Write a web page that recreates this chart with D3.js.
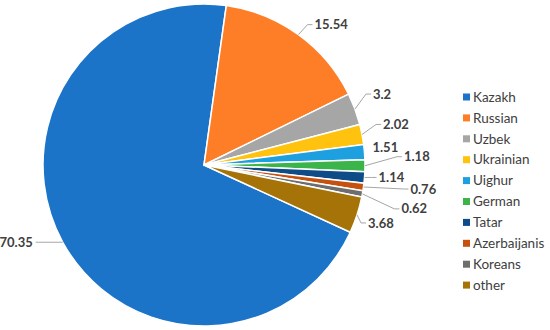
<!doctype html>
<html>
<head>
<script src="https://d3js.org/d3.v7.min.js"></script>
<style>
    body { margin: 0; background: #fff; }
    text { font-family: Lato, "Open Sans", sans-serif; }
</style>
</head>
<body>
<script>
    // data
    var groups = ["Kazakh", "Russian", "Uzbek", "Ukrainian", "Uighur", "German", "Tatar", "Azerbaijanis", "Koreans", "other"];
    var shares = [70.35, 15.54, 3.2, 2.02, 1.51, 1.18, 1.14, 0.76, 0.62, 3.68];
    var colors = ["#1C74C9", "#FD7E27", "#A6A6A6", "#FFC20E", "#1E9FE0", "#3BB44A", "#0E4C88", "#C5510F", "#6E6E6E", "#A67308"];

    // label placement, offset from the slice edge (layout only)
    var labelNudge = [[-30, 0], [16, -10], [18, -15], [21, -10], [8, -5], [39, -9], [14, 0], [47, 2], [39, 15], [11, 8]];

    var width = 550, height = 330;
    var cx = 204, cy = 165, r = 161;
    var startDeg = 114.7;

    var svg = d3.select("body").append("svg")
        .attr("width", width)
        .attr("height", height);

    var rows = groups.map(function (g, i) { return {name: g, value: shares[i], color: colors[i], i: i}; });

    var pie = d3.pie()
        .sort(null)
        .value(function (d) { return d.value; })
        .startAngle(startDeg * Math.PI / 180)
        .endAngle((startDeg + 360) * Math.PI / 180);

    var arc = d3.arc().innerRadius(0).outerRadius(r);
    var arcs = pie(rows);

    var g = svg.append("g").attr("transform", "translate(" + cx + "," + cy + ")");

    g.selectAll("path.slice")
        .data(arcs)
        .enter()
        .append("path")
        .attr("class", "slice")
        .attr("d", arc)
        .attr("fill", function (d) { return d.data.color; })
        .attr("stroke", "white")
        .attr("stroke-width", 1.5);

    // labels + leader lines
    arcs.forEach(function (d) {
        var a = (d.startAngle + d.endAngle) / 2;
        var ex = r * Math.sin(a), ey = -r * Math.cos(a);
        var nd = labelNudge[d.data.i];
        var tx = ex + nd[0], ty = ey + nd[1];
        var left = nd[0] < 0;
        var dist = Math.sqrt(nd[0] * nd[0] + nd[1] * nd[1]);
        if (dist > 12) {
            var ix = left ? tx + 6 : tx - 7;
            var jx = left ? tx + 3 : tx - 2;
            g.append("polyline")
                .attr("points", [[ex, ey], [ix, ty], [jx, ty]].map(function (p) { return p.join(","); }).join(" "))
                .attr("fill", "none")
                .attr("stroke", "#A6A6A6")
                .attr("stroke-width", 1);
        }
        g.append("text")
            .attr("x", tx)
            .attr("y", ty)
            .attr("dy", "0.35em")
            .attr("text-anchor", left ? "end" : "start")
            .attr("font-size", "13px")
            .attr("font-weight", "bold")
            .attr("fill", "#404040")
            .text(d.data.value);
    });

    // legend
    var legend = svg.append("g").attr("transform", "translate(463, 97)");
    var item = legend.selectAll("g.item")
        .data(rows)
        .enter()
        .append("g")
        .attr("class", "item")
        .attr("transform", function (d, i) { return "translate(0," + (i * 20.9) + ")"; });

    item.append("rect")
        .attr("x", 0)
        .attr("y", -3.5)
        .attr("width", 7)
        .attr("height", 7)
        .attr("fill", function (d) { return d.color; });

    item.append("text")
        .attr("x", 10)
        .attr("y", 0)
        .attr("dy", "0.35em")
        .attr("font-size", "13.5px")
        .attr("fill", "#404040")
        .text(function (d) { return d.name; });
</script>
</body>
</html>
